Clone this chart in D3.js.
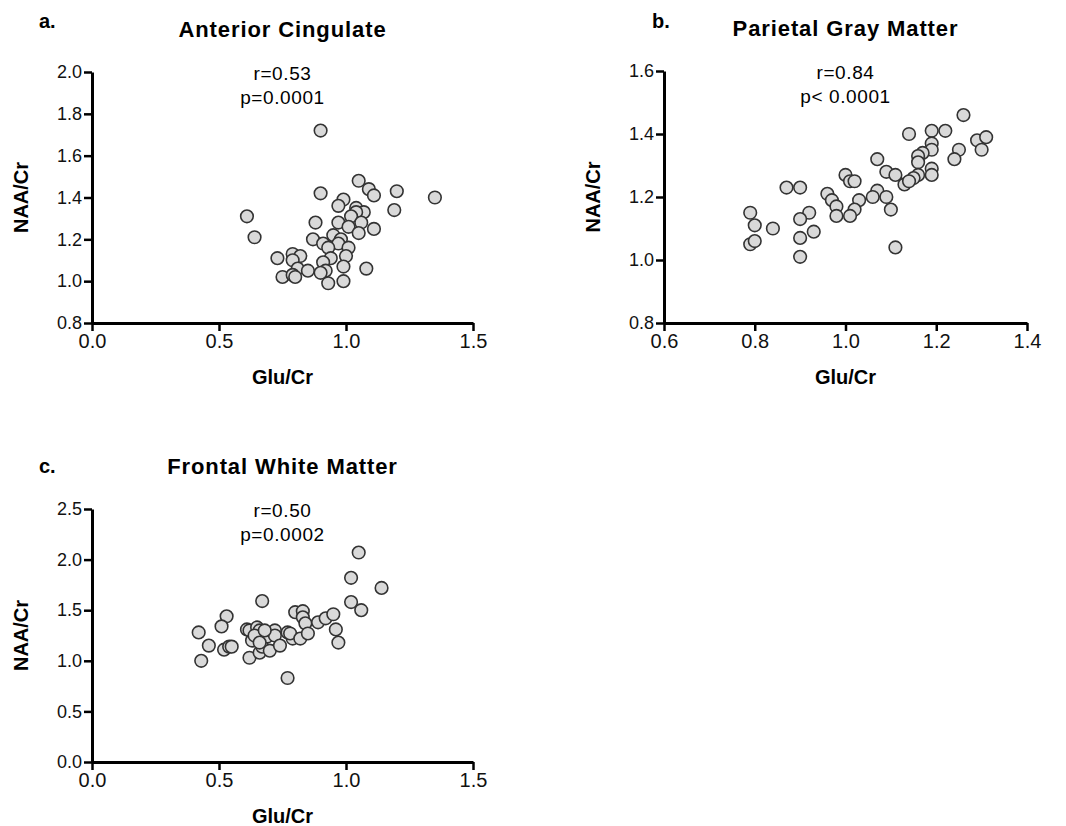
<!DOCTYPE html>
<html>
<head>
<meta charset="utf-8">
<script src="https://cdn.jsdelivr.net/npm/d3@7"></script>
<style>
  body { margin: 0; background: #fff; }
  svg { font-family: "Liberation Sans", Arial, sans-serif; }
  .domain { stroke: #000; stroke-width: 3; }
  .tick line { stroke: #000; stroke-width: 2.5; }
  .tick text { fill: #111; }
  .xax .tick text { font-size: 20px; }
  .yax .tick text { font-size: 18px; }
</style>
</head>
<body>
<svg id="chart" width="1066" height="826"></svg>
<script>
// Anterior Cingulate
const acGlu = [0.90,1.05,1.09,1.11,1.20,1.35,0.90,0.99,0.97,1.04,1.07,1.04,1.02,1.19,0.61,0.88,0.97,1.06,1.01,1.05,1.11,0.64,0.87,0.95,0.98,0.91,0.97,0.93,1.01,1.00,0.94,0.79,0.82,0.73,0.79,0.91,0.81,0.85,0.92,0.99,1.08,0.90,0.75,0.79,0.80,0.93,0.99];
const acNaa = [1.72,1.48,1.44,1.41,1.43,1.40,1.42,1.39,1.36,1.35,1.33,1.33,1.31,1.34,1.31,1.28,1.28,1.28,1.26,1.23,1.25,1.21,1.20,1.22,1.20,1.18,1.18,1.16,1.16,1.12,1.11,1.13,1.12,1.11,1.10,1.09,1.06,1.05,1.05,1.07,1.06,1.04,1.02,1.03,1.02,0.99,1.00];

// Parietal Gray Matter
const pgGlu = [1.26,1.14,1.19,1.22,1.29,1.31,1.30,1.25,1.24,1.19,1.19,1.17,1.16,1.16,1.19,1.19,1.16,1.15,1.07,1.09,1.11,1.13,1.14,1.00,1.01,1.02,0.87,0.90,0.96,0.97,0.98,0.98,1.07,1.06,1.09,1.03,1.02,1.01,1.10,1.11,0.79,0.80,0.84,0.79,0.80,0.92,0.90,0.93,0.90,0.90];
const pgNaa = [1.46,1.40,1.41,1.41,1.38,1.39,1.35,1.35,1.32,1.37,1.35,1.34,1.33,1.31,1.29,1.27,1.27,1.26,1.32,1.28,1.27,1.24,1.25,1.27,1.25,1.25,1.23,1.23,1.21,1.19,1.17,1.14,1.22,1.20,1.20,1.19,1.16,1.14,1.16,1.04,1.15,1.11,1.10,1.05,1.06,1.15,1.13,1.09,1.07,1.01];

// Frontal White Matter
const fwGlu = [1.05,1.02,1.14,1.02,1.06,0.67,0.53,0.51,0.42,0.46,0.43,0.52,0.54,0.55,0.61,0.62,0.65,0.66,0.63,0.62,0.66,0.67,0.69,0.70,0.72,0.72,0.74,0.77,0.79,0.78,0.82,0.80,0.83,0.83,0.84,0.85,0.77,0.89,0.92,0.95,0.96,0.97,0.64,0.68,0.66];
const fwNaa = [2.07,1.82,1.72,1.58,1.50,1.59,1.44,1.34,1.28,1.15,1.00,1.11,1.14,1.14,1.31,1.30,1.33,1.30,1.20,1.03,1.08,1.14,1.24,1.10,1.30,1.25,1.15,1.28,1.22,1.27,1.22,1.48,1.49,1.43,1.37,1.27,0.83,1.38,1.42,1.46,1.31,1.18,1.25,1.30,1.18];

const panels = [
  { tag: "a.", title: "Anterior Cingulate", r: "r=0.53", p: "p=0.0001",
    x: acGlu, y: acNaa, xDom: [0, 1.5], xTicks: [0, 0.5, 1.0, 1.5],
    yDom: [0.8, 2.0], yTicks: [0.8, 1.0, 1.2, 1.4, 1.6, 1.8, 2.0],
    left: 92, right: 473, top: 72, bottom: 323, tagX: 39, tagY: 28 },
  { tag: "b.", title: "Parietal Gray Matter", r: "r=0.84", p: "p< 0.0001",
    x: pgGlu, y: pgNaa, xDom: [0.6, 1.4], xTicks: [0.6, 0.8, 1.0, 1.2, 1.4],
    yDom: [0.8, 1.6], yTicks: [0.8, 1.0, 1.2, 1.4, 1.6],
    left: 664, right: 1027, top: 71, bottom: 323, tagX: 652, tagY: 28 },
  { tag: "c.", title: "Frontal White Matter", r: "r=0.50", p: "p=0.0002",
    x: fwGlu, y: fwNaa, xDom: [0, 1.5], xTicks: [0, 0.5, 1.0, 1.5],
    yDom: [0, 2.5], yTicks: [0, 0.5, 1.0, 1.5, 2.0, 2.5],
    left: 92, right: 473, top: 509, bottom: 762, tagX: 39, tagY: 473 }
];

const svg = d3.select("#chart");

panels.forEach((pn) => {
  const x = d3.scaleLinear().domain(pn.xDom).range([pn.left, pn.right]);
  const y = d3.scaleLinear().domain(pn.yDom).range([pn.bottom, pn.top]);
  const cx = (pn.left + pn.right) / 2;
  const g = svg.append("g");

  // axes
  g.append("g").attr("class", "xax")
    .attr("transform", `translate(0,${pn.bottom})`)
    .call(d3.axisBottom(x).tickValues(pn.xTicks).tickFormat(d3.format(".1f"))
      .tickSize(8).tickSizeOuter(0).tickPadding(3));
  g.append("g").attr("class", "yax")
    .attr("transform", `translate(${pn.left},0)`)
    .call(d3.axisLeft(y).tickValues(pn.yTicks).tickFormat(d3.format(".1f"))
      .tickSize(8).tickSizeOuter(0).tickPadding(2));

  // points
  g.append("g").selectAll("circle")
    .data(pn.x.map((v, i) => [v, pn.y[i]]))
    .enter()
    .append("circle")
    .attr("cx", (d) => x(d[0]))
    .attr("cy", (d) => y(d[1]))
    .attr("r", 6.3)
    .attr("fill", "#d9d9d9")
    .attr("stroke", "#333")
    .attr("stroke-width", 1.6);

  // titles and labels
  g.append("text").attr("x", pn.tagX).attr("y", pn.tagY)
    .attr("font-size", 20).attr("font-weight", "bold").text(pn.tag);
  g.append("text").attr("x", cx).attr("y", pn.top - 35)
    .attr("text-anchor", "middle").attr("font-size", 22).attr("font-weight", "bold")
    .attr("letter-spacing", 0.9).text(pn.title);
  g.append("text").attr("x", cx).attr("y", pn.top + 8)
    .attr("text-anchor", "middle").attr("font-size", 19).attr("letter-spacing", 0.6)
    .text(pn.r);
  g.append("text").attr("x", cx).attr("y", pn.top + 32)
    .attr("text-anchor", "middle").attr("font-size", 19).attr("letter-spacing", 0.6)
    .text(pn.p);
  g.append("text").attr("x", cx).attr("y", pn.bottom + 61)
    .attr("text-anchor", "middle").attr("font-size", 20).attr("font-weight", "bold")
    .text("Glu/Cr");
  g.append("text")
    .attr("transform", `translate(${pn.left - 64},${(pn.top + pn.bottom) / 2}) rotate(-90)`)
    .attr("text-anchor", "middle").attr("font-size", 20).attr("font-weight", "bold")
    .text("NAA/Cr");
});
</script>
</body>
</html>
